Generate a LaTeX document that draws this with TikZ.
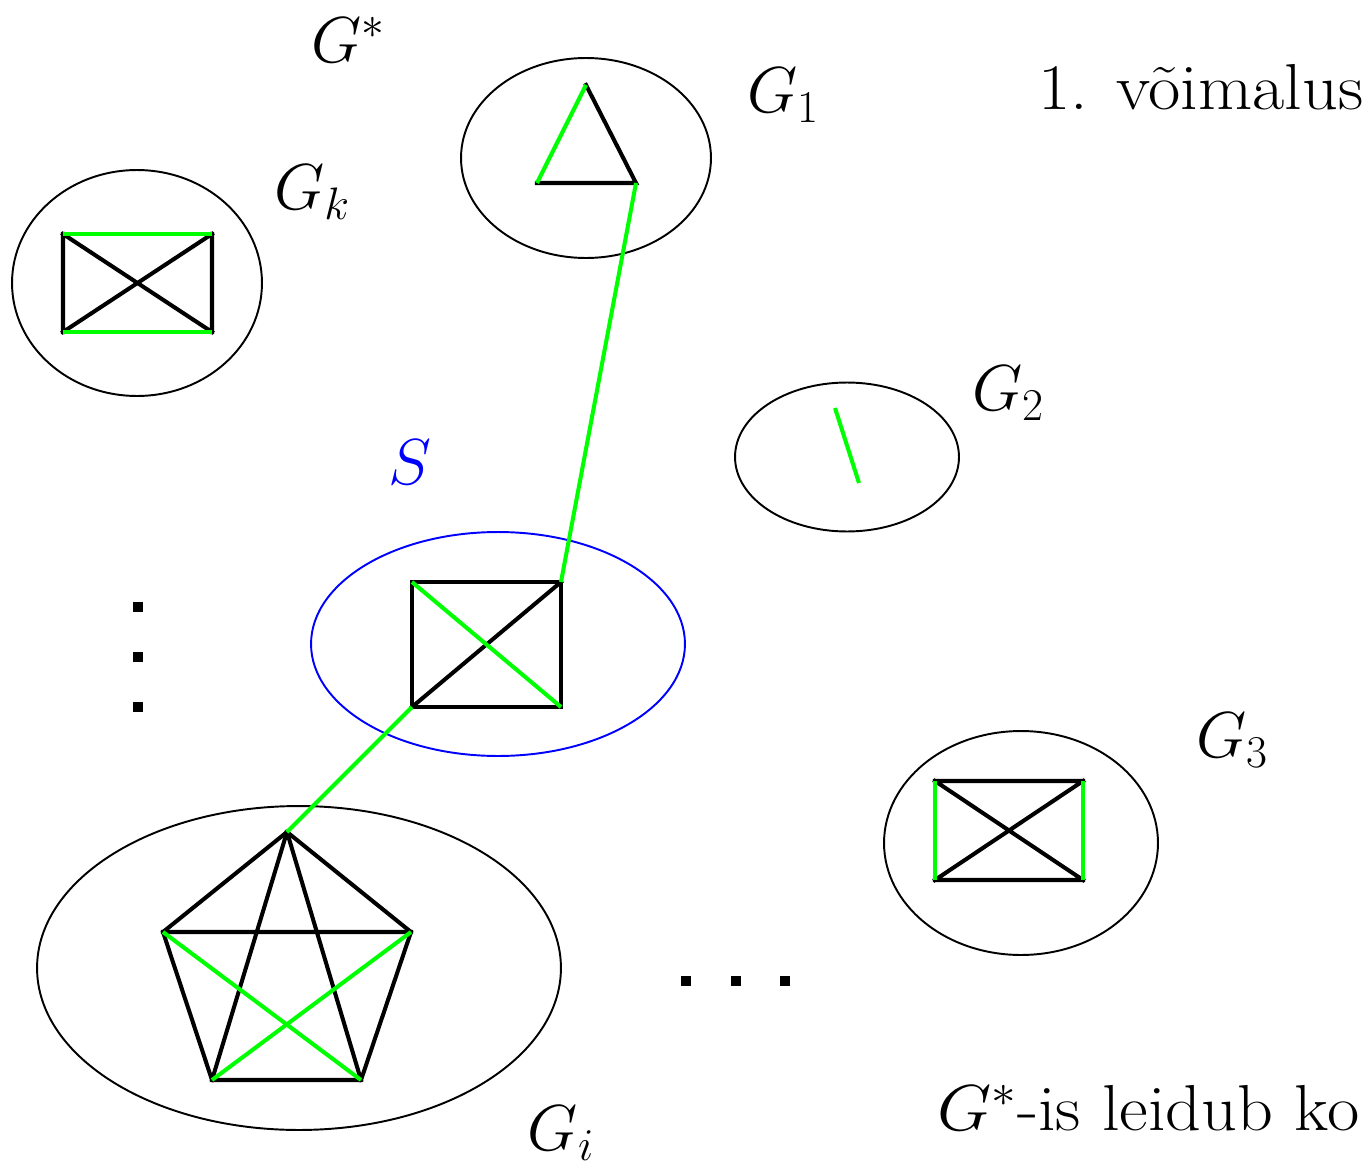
\RequirePackage{fix-cm}
\documentclass[tikz,border=0pt]{standalone}
\usetikzlibrary{shapes.geometric}
\begin{document}
\begin{tikzpicture}[x=0.02cm,y=-0.02cm,
  blob/.style={ellipse,draw=black,line width=1.1pt,inner sep=0pt},
  sblob/.style={ellipse,draw=blue,line width=1.1pt,inner sep=0pt},
  bedge/.style={draw=black,line width=2.3pt,line cap=rect},
  lbl/.style={inner sep=0pt,font=\fontsize{37}{44}\selectfont},
  wide/.style={xscale=1.08,transform shape},
  dotsq/.style={fill=black,minimum size=0.2cm,inner sep=0pt}]
\useasboundingbox (0,0) rectangle (1369,1166);
\definecolor{grn}{RGB}{0,255,0}
\tikzset{gedge/.style={draw=grn,line width=2.3pt}}

% ellipses
\node[blob,minimum width=5cm,minimum height=4cm] (e1) at (586,158) {};
\node[blob,minimum width=5cm,minimum height=4.52cm] (ek) at (137,283) {};
\node[blob,minimum width=4.48cm,minimum height=2.98cm] (e2) at (847,457) {};
\node[sblob,minimum width=7.48cm,minimum height=4.48cm] (es) at (498,644) {};
\node[blob,minimum width=5.48cm,minimum height=4.48cm] (e3) at (1021,843) {};
\node[blob,minimum width=10.48cm,minimum height=6.48cm] (ei) at (299,968) {};

% G1 triangle
\coordinate (t1) at (586,85);
\coordinate (t2) at (537,183);
\coordinate (t3) at (636,183);
\draw[bedge] (t1) -- (t3) -- (t2);
\draw[gedge] (t2) -- (t1);

% Gk rectangle
\coordinate (k1) at (63,234);
\coordinate (k2) at (212,234);
\coordinate (k3) at (212,332);
\coordinate (k4) at (63,332);
\draw[bedge] (k1) -- (k4) (k2) -- (k3) (k1) -- (k3) (k2) -- (k4);
\draw[gedge] (k1) -- (k2) (k4) -- (k3);

% G2 edge
\coordinate (a1) at (835,408);
\coordinate (a2) at (859,483);
\draw[gedge] (a1) -- (a2);

% S rectangle
\coordinate (s1) at (412,582);
\coordinate (s2) at (561,582);
\coordinate (s3) at (561,707);
\coordinate (s4) at (412,707);
\draw[bedge] (s1) -- (s2) -- (s3) -- (s4) -- cycle;
\draw[bedge] (s4) -- (s2);
\draw[gedge] (s1) -- (s3);

% G3 rectangle
\coordinate (r1) at (935,781);
\coordinate (r2) at (1083,781);
\coordinate (r3) at (1083,880);
\coordinate (r4) at (935,880);
\draw[bedge] (r1) -- (r2) (r4) -- (r3) (r1) -- (r3) (r2) -- (r4);
\draw[gedge] (r1) -- (r4) (r2) -- (r3);

% Gi pentagon (K5)
\coordinate (p1) at (287,832);
\coordinate (p2) at (411,932);
\coordinate (p3) at (361,1080);
\coordinate (p4) at (212,1080);
\coordinate (p5) at (163,932);
\draw[bedge] (p1) -- (p2) -- (p3) -- (p4) -- (p5) -- cycle;
\draw[bedge] (p5) -- (p2) (p1) -- (p4) (p1) -- (p3);
\draw[gedge] (p5) -- (p3) (p2) -- (p4);

% connectors between components
\draw[gedge] (t3) -- (s2);
\draw[gedge] (s4) -- (p1);

% dots
\node[dotsq] (v1) at (138,607) {};
\node[dotsq] (v2) at (138,657) {};
\node[dotsq] (v3) at (138,707) {};
\node[dotsq] (h1) at (686,981) {};
\node[dotsq] (h2) at (736,981) {};
\node[dotsq] (h3) at (785,981) {};

% labels
\node[lbl] (lgs) at (348,40) {$G^*$};
\node[lbl] (lg1) at (783,95) {$G_1$};
\node[lbl] (lgk) at (312,192) {$G_k$};
\node[lbl] (lg2) at (1008,393) {$G_2$};
\node[lbl,text=blue] (ls) at (410,462) {$S$};
\node[lbl] (lg3) at (1232,740) {$G_3$};
\node[lbl] (lgi) at (561,1133) {$G_i$};
\node[lbl,wide,anchor=base west] (lv) at (1038,110) {1. võimalus};
\node[lbl,wide,anchor=base west] (lk) at (937,1130) {$G^*$-is leidub ko};
\end{tikzpicture}
\end{document}
